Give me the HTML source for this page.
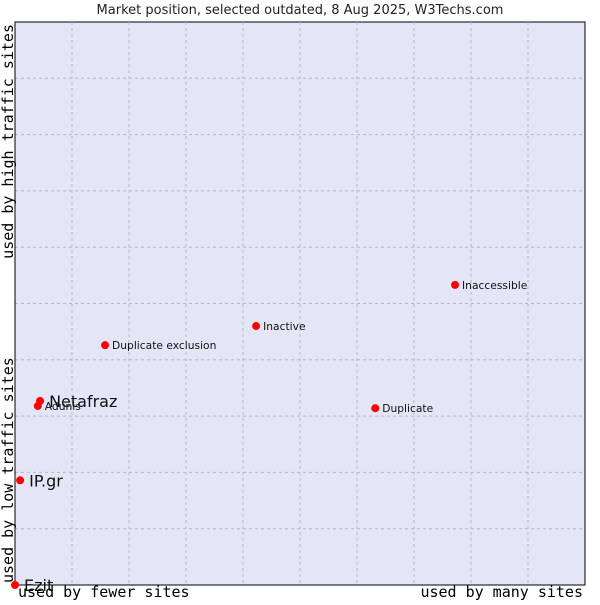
<!DOCTYPE html>
<html><head><meta charset="utf-8"><style>
body{margin:0;background:#fff;width:600px;height:600px;overflow:hidden}
svg text{font-family:"DejaVu Sans","Liberation Sans",sans-serif}
.mono{font-family:"DejaVu Sans Mono","Liberation Mono",monospace}
</style></head><body>
<svg id="chart" width="600" height="600">
<text x="300" y="14" text-anchor="middle" font-size="13" fill="#222">Market position, selected outdated, 8 Aug 2025, W3Techs.com</text>
<rect x="15" y="22" width="570" height="563" fill="#e4e6f8" stroke="#000" stroke-width="1"/>
<g id="grid"></g>
<line x1="15" y1="22" x2="15" y2="585" stroke="#000"/>
<line x1="15" y1="585" x2="585" y2="585" stroke="#000"/>
<g id="points"></g>
<text class="mono" x="18" y="597" font-size="15" fill="#000">used by fewer sites</text>
<text class="mono" x="583" y="597" font-size="15" fill="#000" text-anchor="end">used by many sites</text>
<text class="mono" transform="translate(13,583) rotate(-90)" font-size="15" fill="#000">used by low traffic sites</text>
<text class="mono" transform="translate(13,24) rotate(-90)" font-size="15" fill="#000" text-anchor="end">used by high traffic sites</text>
</svg>
<script>
const names = ["Ezit","IP.gr","Adunis","Netafraz","Duplicate exclusion","Inactive","Duplicate","Inaccessible"];
const xValues = [0,0.9,4.0,4.4,15.8,42.3,63.2,77.2];
const yValues = [0,18.6,31.8,32.7,42.6,46.0,31.4,53.3];
const bigLabel = [true,true,false,true,false,false,false,false];
const gridTicks = [1,2,3,4,5,6,7,8,9];
const NS="http://www.w3.org/2000/svg";
const X0=15,X1=585,Y0=585,Y1=22;
const sx=v=>X0+(X1-X0)*v/100, sy=v=>Y0-(Y0-Y1)*v/100;
const grid=document.getElementById('grid'), pts=document.getElementById('points');
gridTicks.forEach(t=>{
  const a=document.createElementNS(NS,'line');
  
  
  a.setAttribute('x1',sx(t*10));a.setAttribute('x2',sx(t*10));a.setAttribute('y1',Y1);a.setAttribute('y2',Y0);
  a.setAttribute('stroke','#b8b8b8');a.setAttribute('stroke-dasharray','3,3');grid.appendChild(a);
  const b=document.createElementNS(NS,'line');
  
  
  b.setAttribute('y1',sy(t*10));b.setAttribute('y2',sy(t*10));b.setAttribute('x1',X0);b.setAttribute('x2',X1);
  b.setAttribute('stroke','#b8b8b8');b.setAttribute('stroke-dasharray','3,3');grid.appendChild(b);
});
names.forEach((n,i)=>{
  const cx=sx(xValues[i]), cy=sy(yValues[i]);
  const c=document.createElementNS(NS,'circle');
  
  
  c.setAttribute('cx',cx);c.setAttribute('cy',cy);c.setAttribute('r',4);c.setAttribute('fill','#ff0000');
  pts.appendChild(c);
  const t=document.createElementNS(NS,'text');
  
  
  t.setAttribute('x',cx+(bigLabel[i]?9:7));t.setAttribute('y',cy+(bigLabel[i]?6:4));
  t.setAttribute('font-size',bigLabel[i]?16:10.7);t.setAttribute('fill','#111');
  t.textContent=n;pts.appendChild(t);
});
</script>
</body></html>
